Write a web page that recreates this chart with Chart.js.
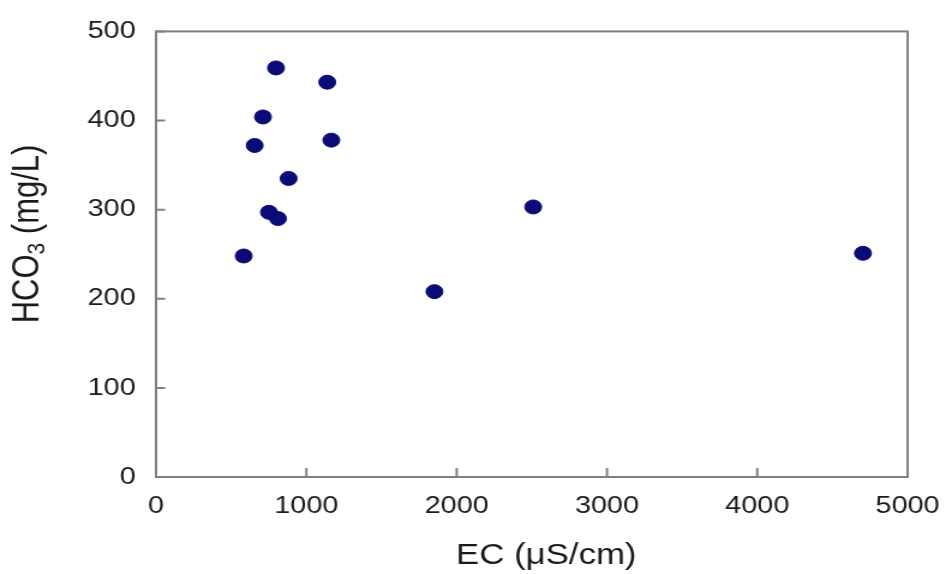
<!DOCTYPE html>
<html>
<head>
<meta charset="utf-8">
<script src="https://cdn.jsdelivr.net/npm/chart.js@4/dist/chart.umd.min.js"></script>
<style>
  html, body { margin: 0; padding: 0; background: #fff; overflow: hidden; }
  /* el gràfic original és una mica eixamplat en horitzontal */
  #wrap { width: 788px; height: 574px; transform: scaleX(1.2005); transform-origin: 0 0; }
</style>
</head>
<body>
<div id="wrap"><canvas id="ecChart"></canvas></div>
<script>
// EC vs HCO3 per mostra
const ecValues = [583, 656, 711, 751, 798, 811, 882, 1139, 1166, 1852, 2509, 4703];
const hco3Values = [248, 372, 404, 297, 459, 290, 335, 443, 378, 208, 303, 251];
const xTicks = [0, 1000, 2000, 3000, 4000, 5000];
const yTicks = [0, 100, 200, 300, 400, 500];

const frameColor = '#808080';
const textColor = '#1a1a1a';
const fontFamily = '"Liberation Sans", Arial, sans-serif';

// marc complet i petites marques cap a dins
const frameTicks = {
    id: 'frameTicks',
    afterDraw(chart) {
        const { ctx, chartArea: a, scales } = chart;
        ctx.save();
        ctx.strokeStyle = frameColor;
        ctx.lineWidth = 2;
        ctx.strokeRect(a.left, a.top, a.right - a.left, a.bottom - a.top);
        ctx.beginPath();
        yTicks.forEach(v => {
            const y = scales.y.getPixelForValue(v);
            ctx.moveTo(a.left, y);
            ctx.lineTo(a.left + 7.5, y);
        });
        xTicks.forEach(v => {
            const x = scales.x.getPixelForValue(v);
            ctx.moveTo(x, a.bottom);
            ctx.lineTo(x, a.bottom - 9);
        });
        ctx.stroke();
        ctx.restore();
    }
};

// títols dels eixos (el del Y amb subíndex)
const axisTitles = {
    id: 'axisTitles',
    afterDraw(chart) {
        const { ctx, chartArea: a } = chart;
        ctx.save();
        ctx.fillStyle = textColor;
        ctx.textBaseline = 'middle';
        ctx.textAlign = 'center';
        ctx.font = '29px ' + fontFamily;
        ctx.fillText('EC (\u03bcS/cm)', (a.left + a.right) / 2 + 12, 556);

        // eix Y girat
        const big = '31px ' + fontFamily;
        const small = '21px ' + fontFamily;
        const parts = [['HCO', big, 0], ['3', small, 8], [' (mg/L)', big, 0]];
        let total = 0;
        parts.forEach(p => { ctx.font = p[1]; total += ctx.measureText(p[0]).width; });
        ctx.translate(23, 234);
        ctx.rotate(-Math.PI / 2);
        ctx.textAlign = 'left';
        let x = -total / 2;
        parts.forEach(p => {
            ctx.font = p[1];
            ctx.fillText(p[0], x, p[2]);
            x += ctx.measureText(p[0]).width;
        });
        ctx.restore();
    }
};

const points = ecValues.map((ec, i) => ({ x: ec, y: hco3Values[i] }));

new Chart(document.getElementById('ecChart'), {
    type: 'scatter',
    data: {
        datasets: [{
            data: points,
            backgroundColor: '#0b0b78',
            borderColor: '#0b0b78',
            pointRadius: 7,
            pointHoverRadius: 7
        }]
    },
    options: {
        responsive: true,
        maintainAspectRatio: false,
        animation: false,
        layout: { padding: { top: 22, right: 32, left: 0, bottom: 0 } },
        plugins: { legend: { display: false }, tooltip: { enabled: false } },
        scales: {
            x: {
                type: 'linear',
                min: 0,
                max: 5000,
                afterBuildTicks: s => { s.ticks = xTicks.map(v => ({ value: v })); },
                afterFit: s => { s.height = 97; s.paddingLeft = 0; s.paddingRight = 0; },
                grid: { display: false, drawTicks: false },
                border: { display: false },
                ticks: {
                    padding: 15,
                    color: textColor,
                    callback: v => String(v),
                    font: { family: fontFamily, size: 24 }
                }
            },
            y: {
                type: 'linear',
                min: 0,
                max: 500,
                afterBuildTicks: s => { s.ticks = yTicks.map(v => ({ value: v })); },
                afterFit: s => { s.width = 130; },
                grid: { display: false, drawTicks: false },
                border: { display: false },
                ticks: {
                    padding: 17,
                    color: textColor,
                    font: { family: fontFamily, size: 24 }
                }
            }
        }
    },
    plugins: [frameTicks, axisTitles]
});
</script>
</body>
</html>
